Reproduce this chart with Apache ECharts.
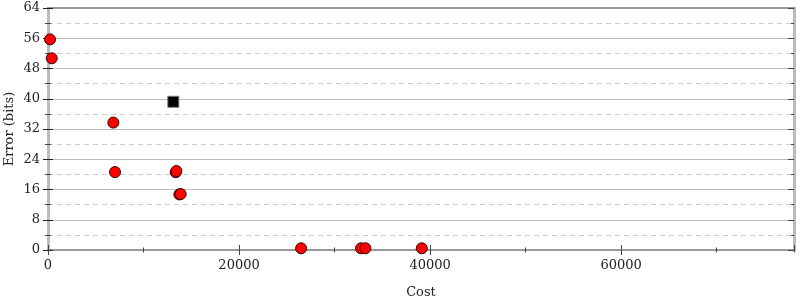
<!DOCTYPE html>
<html><head><meta charset="utf-8">
<script src="https://cdn.jsdelivr.net/npm/echarts@6/dist/echarts.min.js"></script>
<style>html,body{margin:0;padding:0;background:#fff}#c{width:800px;height:300px}</style>
</head><body><div id="c"></div>
<script>
const costs = [210, 390, 6840, 7015, 13370, 13440, 13750, 13890, 26500, 32770, 33230, 39130];
const errors = [55.7, 50.7, 33.7, 20.6, 20.55, 20.9, 14.7, 14.8, 0.45, 0.45, 0.45, 0.45];
const initialCost = [13120];
const initialError = [39.2];
const xTicks = [0, 20000, 40000, 60000];
const yTicks = [0, 8, 16, 24, 32, 40, 48, 56, 64];

const XMAX = 78100, YMAX = 64;
const font = 'DejaVu Serif';
const chart = echarts.init(document.getElementById('c'));
function xa(extra){ return Object.assign({type:'value', min:0, max:XMAX, position:'bottom', interval:20000,
  axisLine:{show:false}, axisLabel:{show:false}, splitLine:{show:false}, axisTick:{show:false}}, extra); }
function ya(extra){ return Object.assign({type:'value', min:0, max:YMAX, position:'left', interval:8,
  axisLine:{show:false}, axisLabel:{show:false}, splitLine:{show:false}, axisTick:{show:false}}, extra); }
chart.setOption({
  animation:false,
  grid:{left:48, right:6, top:8, bottom:50, containLabel:false, outerBoundsMode:'none'},
  xAxis:[
    xa({name:'Cost', nameLocation:'middle', nameGap:36, nameMoveOverlap:false,
      nameTextStyle:{fontFamily:font, fontSize:13, color:'#222'},
      axisLine:{show:true, onZero:false, lineStyle:{color:'#999', width:2}},
      axisTick:{show:true, length:5, lineStyle:{color:'#444'}},
      axisLabel:{show:true, fontFamily:font, fontSize:13, color:'#222', margin:9, showMaxLabel:false,
        formatter:v=> xTicks.indexOf(v)>=0 ? String(v) : ''}}),
    xa({axisTick:{show:true, inside:true, length:5, lineStyle:{color:'#444'}}}),
    xa({interval:10000, axisTick:{show:true, inside:true, length:2.5, lineStyle:{color:'#444'}}}),
    xa({interval:10000, axisTick:{show:true, length:2.5, lineStyle:{color:'#444'}}}),
    xa({position:'top', axisLine:{show:true, onZero:false, lineStyle:{color:'#999', width:2}}})
  ],
  yAxis:[
    ya({name:'Error (bits)', nameLocation:'middle', nameGap:32, nameMoveOverlap:false,
      nameTextStyle:{fontFamily:font, fontSize:13, color:'#222'},
      axisLine:{show:true, onZero:false, lineStyle:{color:'#bbb', width:3}},
      axisTick:{show:true, length:5, lineStyle:{color:'#222'}},
      minorTick:{show:true, splitNumber:2, length:3, lineStyle:{color:'#444'}},
      splitLine:{show:true, lineStyle:{color:'#bbb', width:1}},
      minorSplitLine:{show:true, lineStyle:{color:'#ccc', type:[5,4], width:1}},
      axisLabel:{show:true, fontFamily:font, fontSize:13, color:'#222', margin:8,
        formatter:v=> yTicks.indexOf(v)>=0 ? String(v) : ''}}),
    ya({axisTick:{show:true, inside:true, length:5, lineStyle:{color:'#222'}},
      minorTick:{show:true, splitNumber:2, length:3, lineStyle:{color:'#444'}}}),
    ya({position:'right', axisLine:{show:true, onZero:false, lineStyle:{color:'#bbb', width:3}},
      axisTick:{show:true, inside:true, length:6, lineStyle:{color:'#444'}},
      minorTick:{show:true, splitNumber:2, length:3, lineStyle:{color:'#444'}}})
  ],
  series:[
    {type:'scatter', xAxisIndex:0, yAxisIndex:0, symbol:'circle', symbolSize:11,
      itemStyle:{color:'#ff0000', borderColor:'#300', borderWidth:1, opacity:1},
      data: costs.map((c,i)=>[c, errors[i]])},
    {type:'scatter', xAxisIndex:0, yAxisIndex:0, symbol:'rect', symbolSize:11,
      itemStyle:{color:'#000', borderColor:'#777', borderWidth:1, opacity:1},
      data: initialCost.map((c,i)=>[c, initialError[i]])}
  ]
});
</script></body></html>
